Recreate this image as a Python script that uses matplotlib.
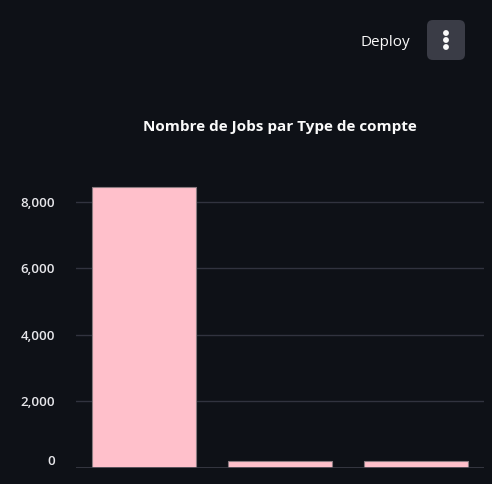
import matplotlib
matplotlib.use("Agg")
import matplotlib.pyplot as plt
from matplotlib.patches import FancyBboxPatch, Circle
from matplotlib.ticker import FuncFormatter

# Data (x labels are outside the visible frame)
types_compte = ["Type A", "Type B", "Type C"]
nb_jobs = [8450, 210, 210]
y_ticks = [0, 2000, 4000, 6000, 8000]

bg = "#0e1117"
plt.rcParams['font.family'] = ['Open Sans', 'DejaVu Sans']

fig = plt.figure(figsize=(4.92, 4.84), dpi=100, facecolor=bg)
ax = fig.add_axes([76 / 492, 16 / 484, 408 / 492, 282 / 484], facecolor=bg)

x = range(len(types_compte))
ax.bar(x, nb_jobs, width=104 / 136, color="#ffc0cb", edgecolor="#8a7a80", linewidth=0.8, zorder=3)
ax.set_xlim(-0.5, len(types_compte) - 0.5)
ax.set_ylim(0, 8480)
ax.set_yticks(y_ticks)
ax.yaxis.set_major_formatter(FuncFormatter(lambda v, p: f"{int(v):,}"))
ax.grid(axis="y", color="#31333f", linewidth=1, zorder=0)
ax.set_xticks([])
for s in ax.spines.values():
    s.set_visible(False)
ax.tick_params(axis="y", length=0, pad=15, colors="#e6e6ea", labelsize=9.6)
for lab in ax.get_yticklabels():
    lab.set_fontweight("semibold")
ax.get_yticklabels()[0].set_verticalalignment("bottom")
ax.axhline(0, color="#3a3c46", linewidth=1.2, zorder=4)

fig.text(280 / 492, 1 - 127 / 484, "Nombre de Jobs par Type de compte", ha="center", va="center",
         color="#fafafa", fontsize=11, fontweight="bold")

# Streamlit header
fig.text(385 / 492, 1 - 42 / 484, "Deploy", ha="center", va="center", color="#fafafa", fontsize=11)
btn = FancyBboxPatch((427 / 492, 1 - 60 / 484), 38 / 492, 40 / 484,
                     boxstyle="round,pad=0,rounding_size=0.012", transform=fig.transFigure,
                     facecolor="#3a3c46", edgecolor="none", zorder=1)
fig.add_artist(btn)
for dy in (-7, 0, 7):
    fig.add_artist(Circle((446, 484 - (40 + dy)), 2.2, transform=None,
                          color="#fafafa", zorder=5))

fig.savefig("out.png", dpi=100, facecolor=bg)
